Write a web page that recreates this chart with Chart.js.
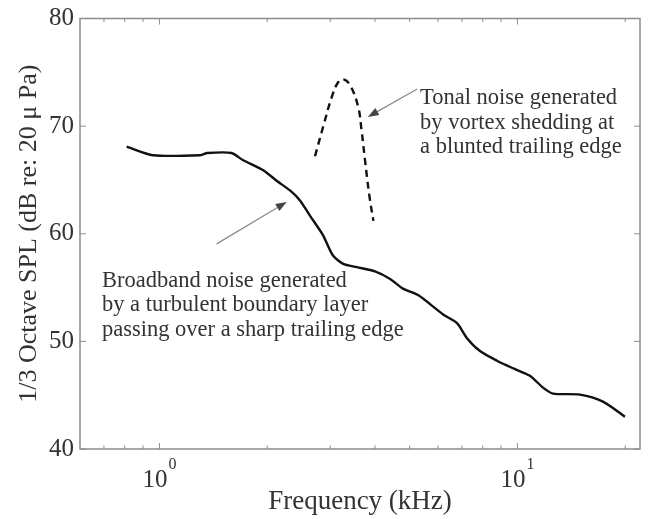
<!DOCTYPE html>
<html><head><meta charset="utf-8">
<script src="https://cdn.jsdelivr.net/npm/chart.js@4.4.1/dist/chart.umd.min.js"></script>
<style>html,body{margin:0;padding:0;background:#fff;}canvas{display:block;}</style>
</head><body>
<canvas id="c" width="649" height="519"></canvas>
<script>
// ---- data ----
const broadbandFreq = [0.81, 0.96, 1.30, 1.36, 1.59, 1.71, 1.95, 2.13, 2.32, 2.47, 2.63, 2.86, 3.05, 3.26, 3.56, 4.0, 4.41, 4.79, 5.28, 6.2, 6.78, 7.23, 7.86, 8.77, 9.72, 10.84, 11.79, 12.57, 14.95, 17.34, 19.97];
const broadbandSPL  = [68.1, 67.3, 67.3, 67.5, 67.5, 66.85, 65.9, 64.9, 64.0, 63.1, 61.7, 59.9, 58.0, 57.2, 56.9, 56.5, 55.8, 54.9, 54.3, 52.5, 51.7, 50.3, 49.1, 48.2, 47.5, 46.8, 45.7, 45.15, 45.05, 44.4, 43.0];
const tonalFreq = [2.72, 2.87, 3.03, 3.16, 3.27, 3.41, 3.59, 3.67, 3.75, 3.86, 3.96];
const tonalSPL  = [67.2, 70.0, 72.7, 74.1, 74.35, 73.8, 71.8, 69.6, 66.9, 63.5, 61.2];

const yTickValues = [40, 50, 60, 70, 80];
const xMajorTicks = [1, 10];
const xMajorExponents = ['0', '1'];
const xMinorTicks = [0.7, 0.8, 0.9, 2, 3, 4, 5, 6, 7, 8, 9, 20];
const xRange = [0.6, 22];
const yRange = [40, 80];

const xTitle = 'Frequency (kHz)';
const yTitle = '1/3 Octave SPL (dB re: 20 \u03bc Pa)';
const broadbandNote = ['Broadband noise generated', 'by a turbulent boundary layer', 'passing over a sharp trailing edge'];
const tonalNote = ['Tonal noise generated', 'by vortex shedding at', 'a blunted trailing edge'];
const broadbandNoteAt = {x: 0.691, y: 55.08};
const tonalNoteAt = {x: 5.345, y: 72.03};
const broadbandArrow = {from: {x: 1.445, y: 59.06}, to: {x: 2.268, y: 62.96}};
const tonalArrow = {from: {x: 5.25, y: 73.45}, to: {x: 3.82, y: 70.85}};

const SERIF = '"Liberation Serif", "Times New Roman", serif';
const TEXT = '#333333';
const AXIS = '#8c8c8c';

const decor = {
  id: 'decor',
  afterDraw(chart) {
    const {ctx, chartArea: a, scales: {x, y}} = chart;
    ctx.save();
    const seg = (x1, y1, x2, y2) => { ctx.beginPath(); ctx.moveTo(x1, y1); ctx.lineTo(x2, y2); ctx.stroke(); };
    // box
    ctx.strokeStyle = AXIS; ctx.lineWidth = 1.5;
    ctx.strokeRect(a.left, a.top, a.right - a.left, a.bottom - a.top);
    // inward ticks
    ctx.lineWidth = 1;
    const xt = (v, len) => { const p = x.getPixelForValue(v); seg(p, a.bottom, p, a.bottom - len); seg(p, a.top, p, a.top + len); };
    xMajorTicks.forEach(v => xt(v, 6));
    xMinorTicks.forEach(v => xt(v, 3.5));
    yTickValues.forEach(v => { const p = y.getPixelForValue(v); seg(a.left, p, a.left + 6, p); seg(a.right, p, a.right - 6, p); });
    // x tick labels 10^n
    ctx.fillStyle = TEXT; ctx.textBaseline = 'alphabetic'; ctx.textAlign = 'left';
    xMajorTicks.forEach((v, i) => {
      const p = x.getPixelForValue(v);
      ctx.font = '25px ' + SERIF; const wb = ctx.measureText('10').width;
      ctx.font = '16px ' + SERIF; const ws = ctx.measureText(xMajorExponents[i]).width;
      const start = p - (wb + ws + 1) / 2;
      ctx.font = '25px ' + SERIF; ctx.fillText('10', start, 487);
      ctx.font = '16px ' + SERIF; ctx.fillText(xMajorExponents[i], start + wb + 1, 469);
    });
    // notes
    ctx.font = '22.5px ' + SERIF; ctx.fillStyle = TEXT;
    const note = (lines, at) => {
      const px = x.getPixelForValue(at.x), py = y.getPixelForValue(at.y);
      lines.forEach((t, i) => ctx.fillText(t, px, py + i * 24.5));
    };
    note(broadbandNote, broadbandNoteAt);
    note(tonalNote, tonalNoteAt);
    // arrows
    const arrow = (ar) => {
      const x1 = x.getPixelForValue(ar.from.x), y1 = y.getPixelForValue(ar.from.y);
      const x2 = x.getPixelForValue(ar.to.x), y2 = y.getPixelForValue(ar.to.y);
      const ang = Math.atan2(y2 - y1, x2 - x1);
      const L = 11, W = 4;
      ctx.strokeStyle = '#8a8a8a'; ctx.lineWidth = 1.2;
      seg(x1, y1, x2 - L * 0.8 * Math.cos(ang), y2 - L * 0.8 * Math.sin(ang));
      ctx.fillStyle = '#444';
      ctx.beginPath();
      ctx.moveTo(x2, y2);
      ctx.lineTo(x2 - L * Math.cos(ang) + W * Math.sin(ang), y2 - L * Math.sin(ang) - W * Math.cos(ang));
      ctx.lineTo(x2 - L * Math.cos(ang) - W * Math.sin(ang), y2 - L * Math.sin(ang) + W * Math.cos(ang));
      ctx.closePath(); ctx.fill();
    };
    arrow(broadbandArrow);
    arrow(tonalArrow);
    ctx.restore();
  }
};

new Chart(document.getElementById('c'), {
  type: 'line',
  data: {
    datasets: [
      {
        label: 'Broadband',
        data: broadbandFreq.map((f, i) => ({x: f, y: broadbandSPL[i]})),
        borderColor: '#111', borderWidth: 2.4, pointRadius: 0, tension: 0.25, fill: false
      },
      {
        label: 'Tonal',
        data: tonalFreq.map((f, i) => ({x: f, y: tonalSPL[i]})),
        borderColor: '#111', borderWidth: 2.4, borderDash: [7, 5], pointRadius: 0, tension: 0.4, fill: false
      }
    ]
  },
  options: {
    responsive: false, animation: false,
    layout: {padding: {left: 0, right: 9, top: 14, bottom: 0}},
    plugins: {legend: {display: false}, tooltip: {enabled: false}},
    scales: {
      x: {
        type: 'logarithmic', min: xRange[0], max: xRange[1],
        grid: {display: false, drawTicks: false}, border: {display: false},
        ticks: {display: false},
        title: {display: true, text: xTitle, color: TEXT, font: {family: SERIF, size: 27}, padding: {top: 0, bottom: 1}},
        afterFit: s => { s.height = 70; }
      },
      y: {
        type: 'linear', min: yRange[0], max: yRange[1],
        grid: {display: false, drawTicks: false}, border: {display: false},
        afterBuildTicks: s => { s.ticks = yTickValues.map(v => ({value: v})); },
        ticks: {color: TEXT, padding: 6, font: {family: SERIF, size: 25, lineHeight: 1}},
        title: {display: true, text: yTitle, color: TEXT, font: {family: SERIF, size: 26}, padding: {top: 14, bottom: 0}},
        afterFit: s => { s.width = 80; }
      }
    }
  },
  plugins: [decor]
});
</script>
</body></html>
